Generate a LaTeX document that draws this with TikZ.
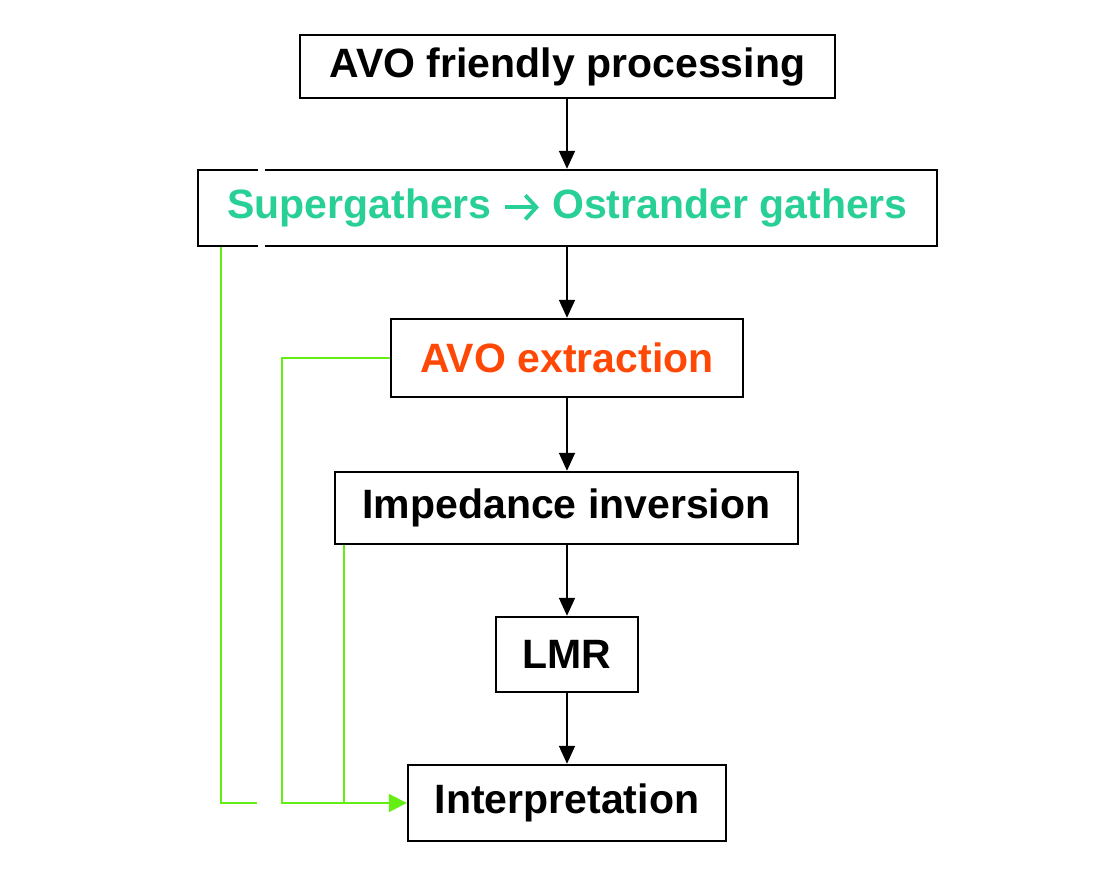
\documentclass[tikz,border=0pt]{standalone}
\usepackage{fontspec}
\setmainfont{Liberation Sans}
\usetikzlibrary{arrows.meta}
\definecolor{tealtext}{RGB}{40,208,150}
\definecolor{redtext}{RGB}{255,72,5}
\definecolor{feedgreen}{RGB}{100,238,20}
\tikzset{
  stepbox/.style={draw=black, line width=1.2pt, inner sep=0pt, align=center,
    font=\fontsize{20.5}{24}\selectfont\bfseries},
  flow/.style={line width=0.9pt, -{Triangle[width=8pt,length=9pt]}},
  feed/.style={feedgreen, line width=1pt}
}
\newcommand\tealarrow{\tikz[baseline=-5.6pt]\draw[tealtext, line width=1.9pt, -{Straight Barb[length=5.5pt,width=12pt,line width=1.9pt]}] (0pt,0pt) -- (17pt,0pt);}
\begin{document}
\begin{tikzpicture}[x=0.5pt,y=-0.5pt]
  %%%%% START %%%%%
  \useasboundingbox[fill=white] (0,0) rectangle (1100,870);
  \def\xmid{567}
  \def\yfeed{803}

  \node[stepbox, minimum width=267.5pt, minimum height=31.5pt] (avo) at (567.5,66.5) {AVO friendly processing};
  \node[stepbox, minimum width=369.5pt, minimum height=38pt, text=tealtext] (sg) at (567.5,208) {Supergathers \tealarrow{} Ostrander gathers};
  \node[stepbox, minimum width=176pt, minimum height=39pt, text=redtext] (ext) at (567,358) {AVO extraction};
  \node[stepbox, minimum width=231.5pt, minimum height=36pt] (imp) at (566.5,508) {Impedance inversion};
  \node[stepbox, minimum width=71pt, minimum height=37.5pt] (lmr) at (567,654.5) {LMR};
  \node[stepbox, minimum width=159pt, minimum height=38pt] (interp) at (567,\yfeed) {Interpretation};

  % gaps in the supergathers frame
  \draw[white, line width=2pt] (258,170) -- (265,170);
  \draw[white, line width=2pt] (258,246) -- (265,246);

  \draw[flow] (avo.south -| \xmid,0) -- (sg.north -| \xmid,0);
  \draw[flow] (sg.south -| \xmid,0) -- (ext.north -| \xmid,0);
  \draw[flow] (ext.south -| \xmid,0) -- (imp.north -| \xmid,0);
  \draw[flow] (imp.south -| \xmid,0) -- (lmr.north -| \xmid,0);
  \draw[flow] (lmr.south -| \xmid,0) -- (interp.north -| \xmid,0);

  % green feeds into interpretation
  \coordinate (gapA) at (257,\yfeed);
  \draw[feed] (sg.south -| 221,0) |- (gapA);
  \draw[feed, -{Triangle[width=9pt,length=9pt]}] (ext.west) -| (282,\yfeed) -- (interp.west);
  \draw[feed] (imp.south -| 344,0) -- (344,\yfeed);
  %%%%% END %%%%%
\end{tikzpicture}
\end{document}
